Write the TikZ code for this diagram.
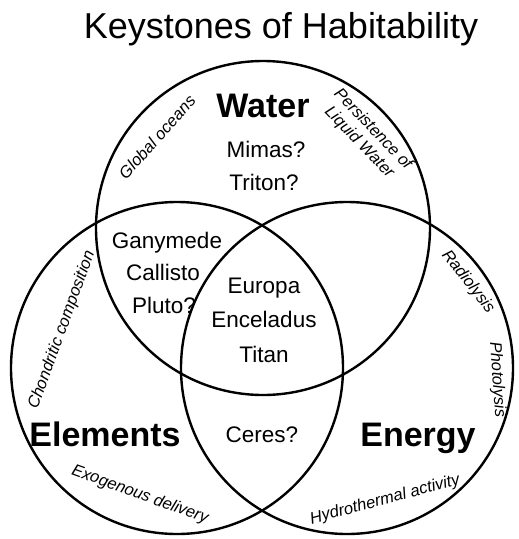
\documentclass[tikz,border=0pt]{standalone}
\usepackage{fontspec}
\setmainfont{Liberation Sans}
\begin{document}
\begin{tikzpicture}[x=1pt,y=-1pt,
  cercle/.style={line width=2.4pt},
  grand/.style={font=\fontsize{34}{36}\selectfont\bfseries, anchor=base},
  lune/.style={font=\fontsize{22.5}{24}\selectfont, anchor=base},
  bord/.style={font=\fontsize{16.5}{19}\selectfont\itshape, align=center}]
\useasboundingbox (0,0) rectangle (519,539);
% centres des trois cercles
\coordinate (eau) at (263,228);
\coordinate (elem) at (177,368);
\coordinate (nrj) at (347,368);
\draw[cercle] (eau) circle[radius=167];
\draw[cercle] (elem) circle[radius=166];
\draw[cercle] (nrj) circle[radius=166];

% titre
\node[anchor=base, font=\fontsize{36}{40}\selectfont] (titre) at (281,38) {Keystones of Habitability};

% noms des cercles
\node[grand] (water) at (263,117) {Water};
\node[grand] (elements) at (105,446) {Elements};
\node[grand] (energy) at (418,446) {Energy};

% corps dans chaque zone
\node[lune] (mimas) at (266,157) {Mimas?};
\node[lune] (triton) at (264,190) {Triton?};
\node[lune] (ganymede) at (167,248) {Ganymede};
\node[lune] (callisto) at (163,280) {Callisto};
\node[lune] (pluto) at (164,313) {Pluto?};
\node[lune] (europa) at (264,293) {Europa};
\node[lune] (enceladus) at (264,327) {Enceladus};
\node[lune] (titan) at (264,362) {Titan};
\node[lune] (ceres) at (262,442) {Ceres?};

% processus le long des bords
\node[bord, rotate=48] (oceans) at (157,137) {Global oceans};
\node[bord, rotate=-46] (persist) at (366,136) {Persistence of\\Liquid Water};
\node[bord, rotate=70] (chondr) at (62,330) {Chondritic composition};
\node[bord, rotate=-52] (radio) at (468,282) {Radiolysis};
\node[bord, rotate=-86] (photo) at (497,380) {Photolysis};
\node[bord, rotate=-20] (exo) at (140,495) {Exogenous delivery};
\node[bord, rotate=15] (hydro) at (385,500) {Hydrothermal activity};
\end{tikzpicture}
\end{document}
